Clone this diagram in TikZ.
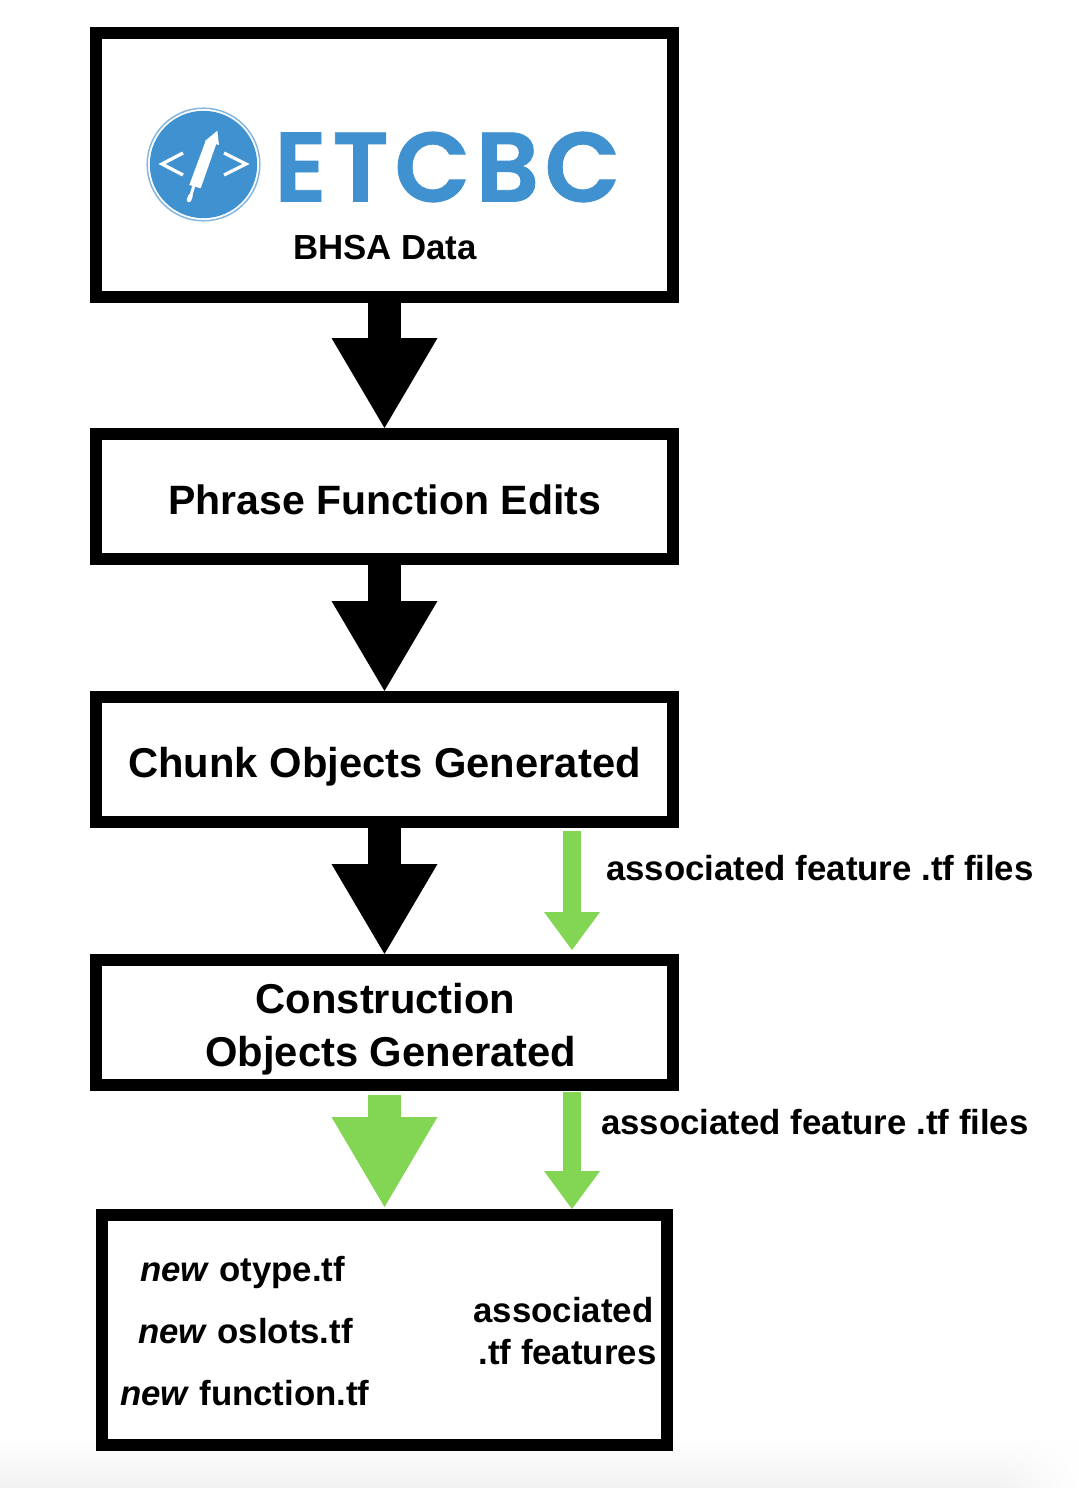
\documentclass[tikz,border=0pt]{standalone}
\usepackage{fontspec}
\setmainfont{Liberation Sans}
\newfontfamily\logofont{Poppins SemiBold}[LetterSpace=5.5,FakeBold=0.8]
\usetikzlibrary{arrows.meta,fadings}
\definecolor{leaf}{HTML}{83D654}
\definecolor{logoblue}{HTML}{4091CF}
\tikzset{
  stepbox/.style={draw=black,line width=9pt,fill=white,minimum width=432.75pt,inner sep=0pt,align=center,font=\fontsize{30.75}{39.75}\selectfont\bfseries},
  smalltext/.style={inner sep=0pt,font=\fontsize{26.1}{32}\selectfont\bfseries},
  bigflow/.style={line width=24.75pt,-{Triangle[width=79.5pt,length=67.5pt,line width=0pt]}},
  thinflow/.style={line width=13.5pt,leaf,-{Triangle[width=42pt,length=28.5pt,line width=0pt]}},
}
\begin{document}
\begin{tikzpicture}[x=0.75pt,y=-0.75pt]
\useasboundingbox (0,0) rectangle (1078,1488);
% faint grey band at the foot of the screenshot
\fill[top color=white,bottom color=black!5,draw=none] (0,1436) rectangle (1078,1488);
\fill[white,path fading=west] (1000,1436) rectangle (1078.5,1488.5);
% boxes
\node[stepbox,minimum height=198pt] (bhsa) at (384.5,165) {};
\node[stepbox,minimum height=93.75pt] (phrase) at (384.5,496.5) {\rule{0pt}{27pt}Phrase Function Edits};
\node[stepbox,minimum height=93.75pt,font=\fontsize{31.3}{39.75}\selectfont\bfseries] (chunk) at (384.5,759.5) {\rule{0pt}{33.5pt}Chunk Objects Generated};
\node[stepbox,minimum height=93.75pt,font=\fontsize{31.3}{39.75}\selectfont\bfseries] (construction) at (384.5,1022.5) {\rule{0pt}{33pt}\hspace*{1.5pt}Construction\\\hspace*{9.5pt}Objects Generated};
\node[stepbox,minimum height=172.5pt,minimum width=423.75pt] (output) at (384.5,1330) {};
% logo
\node[circle,draw=logoblue!65,line width=1.1pt,minimum size=84.5pt,inner sep=0pt] (ring) at (203.5,164.5) {};
\node[circle,fill=logoblue,minimum size=80.5pt,inner sep=0pt] (disc) at (203.5,164.5) {};
\draw[white,line width=2.5pt,miter limit=10] (183,153) -- (162,164) -- (183,175);
\draw[white,line width=2.5pt,miter limit=10] (224,153) -- (246,164) -- (224,175);
\fill[white] (217.3,130.7) -- (219,145) -- (205,141) -- cycle;
\fill[white] (206,140) -- (216.5,143.3) -- (200.7,188.3) -- (189.3,185) -- cycle;
\draw[white,line width=2.2pt,line cap=round] (193.5,187) -- (191,195);
\draw[white,line width=3.4pt,line cap=round] (190.5,196) -- (189,200);
\node[inner sep=0pt,text=logoblue,anchor=west] (logotext) at (274,167)
  {\logofont\fontsize{74}{74}\selectfont ETCBC};
\node[smalltext] (bhsalabel) at (385,248) {BHSA Data};
% black flow arrows
\draw[bigflow] (bhsa) -- (phrase);
\draw[bigflow] (phrase) -- (chunk);
\draw[bigflow] (chunk) -- (construction);
% green flow arrows
\coordinate (bigstart) at (384.5,1095);
\coordinate (bigend) at (384.5,1207);
\draw[bigflow,leaf] (bigstart) -- (bigend);
\coordinate (thinastart) at (572,831);
\coordinate (thinaend) at (572,950);
\draw[thinflow] (thinastart) -- (thinaend);
\coordinate (thinbstart) at (572,1092);
\coordinate (thinbend) at (572,1209);
\draw[thinflow] (thinbstart) -- (thinbend);
\node[smalltext,anchor=west] (assoca) at (606,868) {associated feature .tf files};
\node[smalltext,anchor=west] (assocb) at (601,1122) {associated feature .tf files};
% output box content
\node[smalltext,anchor=west] (otype) at (140,1272) {\textit{new} otype.tf};
\node[smalltext,anchor=west] (oslots) at (138,1331) {\textit{new} oslots.tf};
\node[smalltext,anchor=west] (function) at (120,1393) {\textit{new} function.tf};
\node[smalltext,anchor=center,align=center] (features) at (563.5,1331) {associated\\\hspace*{6pt}.tf features};
\end{tikzpicture}
\end{document}
